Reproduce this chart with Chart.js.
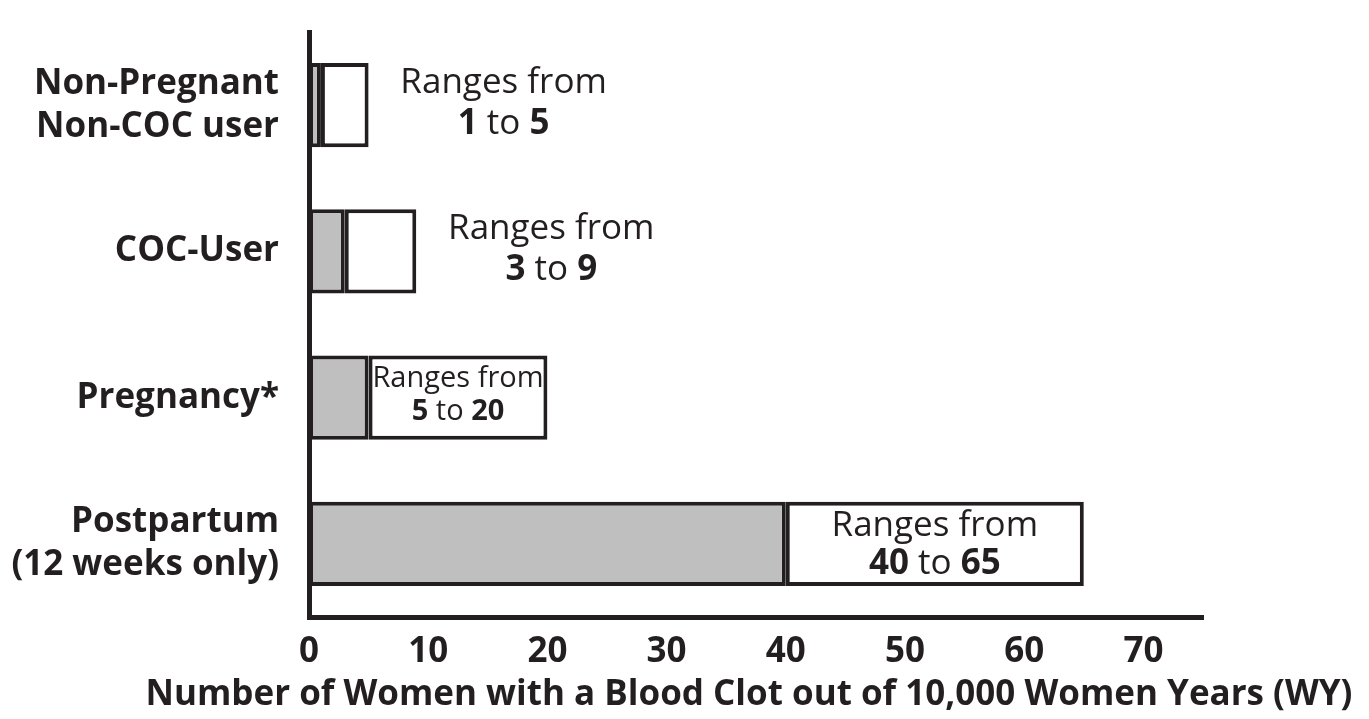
<!DOCTYPE html>
<html>
<head>
<meta charset="utf-8">
<script src="https://cdn.jsdelivr.net/npm/chart.js@4.4.1/dist/chart.umd.min.js"></script>
<style>
  html, body { margin: 0; padding: 0; background: #ffffff; }
  #wrap { width: 1369px; height: 719px; position: relative; }
</style>
</head>
<body>
<div id="wrap"><canvas id="c" width="1369" height="719"></canvas></div>
<script>
// ---- data ----
const categories = [
  ["Non-Pregnant", "Non-COC user"],
  ["COC-User"],
  ["Pregnancy*"],
  ["Postpartum", "(12 weeks only)"]
];
const lowValues  = [1, 3, 5, 40];
const highValues = [5, 9, 20, 65];
const xTicks = [0, 10, 20, 30, 40, 50, 60, 70];
const xTitle = "Number of Women with a Blood Clot out of 10,000 Women Years (WY)";
const rangePrefix = "Ranges from";

// derived: the white segment is the span from low to high
const spanValues = highValues.map((h, i) => h - lowValues[i]);

const INK = '#231f20';
const FONT = '"Open Sans", "DejaVu Sans", sans-serif';

const rangeLabels = {
  id: 'rangeLabels',
  afterDatasetsDraw(chart) {
    const ctx = chart.ctx;
    const xs = chart.scales.x, ys = chart.scales.y;
    ctx.save();
    ctx.fillStyle = INK;
    ctx.textBaseline = 'middle';
    categories.forEach((c, i) => {
      const lo = lowValues[i], hi = highValues[i];
      const x0 = xs.getPixelForValue(lo), x1 = xs.getPixelForValue(hi);
      const yc = ys.getPixelForValue(i);
      let size = 35;
      let cx;
      const inside = (hi - lo) >= 15;
      ctx.font = `400 ${size}px ${FONT}`;
      let w = ctx.measureText(rangePrefix).width;
      if (inside) {
        const avail = x1 - x0 - 6;
        if (w > avail) { size = Math.floor(size * avail / w); }
        cx = (x0 + x1) / 2;
      } else {
        cx = x1 + 135;
      }
      const small = size < 35;
      const dy1 = inside ? (small ? -19 : -18) : -22;
      const dy2 = inside ? (small ? 14 : 20) : 19;
      ctx.font = `400 ${size}px ${FONT}`;
      ctx.textAlign = 'center';
      ctx.fillText(rangePrefix, cx, yc + dy1);
      const parts = [
        { t: String(lo), b: true },
        { t: ' to ', b: false },
        { t: String(hi), b: true }
      ];
      let total = 0;
      parts.forEach(p => {
        ctx.font = `${p.b ? 700 : 400} ${size}px ${FONT}`;
        p.w = ctx.measureText(p.t).width;
        total += p.w;
      });
      let x = cx - total / 2;
      ctx.textAlign = 'left';
      parts.forEach(p => {
        ctx.font = `${p.b ? 700 : 400} ${size}px ${FONT}`;
        ctx.fillText(p.t, x, yc + dy2);
        x += p.w;
      });
    });
    // x-axis title
    ctx.font = `700 35px ${FONT}`;
    ctx.textAlign = 'center';
    ctx.textBaseline = 'middle';
    ctx.fillText(xTitle, 749, 695);
    ctx.restore();
  }
};

new Chart(document.getElementById('c'), {
  type: 'bar',
  data: {
    labels: categories,
    datasets: [
      {
        label: 'Low',
        data: lowValues,
        backgroundColor: '#bfbfbf',
        borderColor: INK,
        borderWidth: 4,
        borderSkipped: false
      },
      {
        label: 'Range',
        data: spanValues,
        backgroundColor: '#ffffff',
        borderColor: INK,
        borderWidth: 4,
        borderSkipped: false
      }
    ]
  },
  options: {
    indexAxis: 'y',
    responsive: false,
    animation: false,
    devicePixelRatio: 1,
    layout: { padding: { top: 32, right: 166, left: 0, bottom: 0 } },
    datasets: { bar: { categoryPercentage: 1.0, barPercentage: 0.575 } },
    plugins: {
      legend: { display: false },
      tooltip: { enabled: false },
      title: { display: false }
    },
    scales: {
      x: {
        stacked: true,
        min: 0,
        max: 75,
        afterBuildTicks(scale) {
          scale.ticks = xTicks.map(v => ({ value: v }));
        },
        afterFit(scale) {
          scale.height = 102;
          scale.paddingLeft = 0; scale.paddingRight = 0;
        },
        grid: { display: false, drawTicks: false },
        border: { display: true, color: INK, width: 5 },
        ticks: {
          color: INK,
          padding: 14,
          maxRotation: 0,
          font: { family: FONT, size: 35, weight: 700 }
        }
      },
      y: {
        stacked: true,
        grid: { display: false, drawTicks: false },
        border: { display: true, color: INK, width: 5 },
        afterFit(scale) {
          scale.width = 309;
          scale.paddingTop = 0; scale.paddingBottom = 0;
        },
        ticks: {
          color: INK,
          padding: 30,
          font: { family: FONT, size: 35, weight: 700, lineHeight: 1.23 }
        }
      }
    }
  },
  plugins: [rangeLabels]
});
</script>
</body>
</html>
